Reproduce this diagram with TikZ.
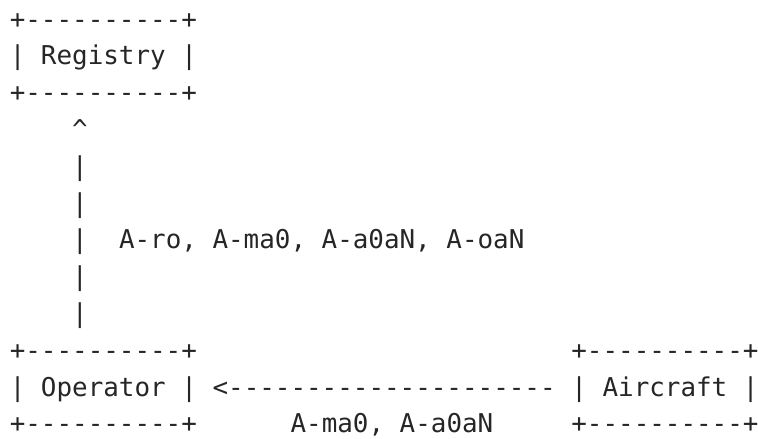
\documentclass[tikz,border=0pt]{standalone}
\usepackage{fontspec}
\setmonofont{DejaVu Sans Mono}
\begin{document}
\begin{tikzpicture}[x=1pt,y=1pt,
  asc/.style={anchor=base west, inner sep=0pt, outer sep=0pt,
    font=\ttfamily\fontsize{25.9}{36.8}\selectfont, text=black!85}]
\useasboundingbox (0,0) rectangle (758,439);
% Registry box
\node[asc] (regtop) at (9.8,410.8) {+----------+};
\node[asc] (reg)    at (9.8,374.0) {| Registry |};
\node[asc] (regbot) at (9.8,337.2) {+----------+};
% vertical arrow
\node[asc] (up)  at (72.2,300.4) {\textasciicircum};
\node[asc] (v1)  at (72.2,263.6) {|};
\node[asc] (v2)  at (72.2,226.8) {|};
\node[asc] (v3)  at (72.2,190.0) {|};
\node[asc] (lab1) at (119.0,190.0) {A-ro, A-ma0, A-a0aN, A-oaN};
\node[asc] (v4)  at (72.2,153.2) {|};
\node[asc] (v5)  at (72.2,116.4) {|};
% Operator box
\node[asc] (optop) at (9.8,79.6) {+----------+};
\node[asc] (op)    at (9.8,42.8) {| Operator |};
\node[asc] (opbot) at (9.8,6.0)  {+----------+};
% horizontal arrow
\node[asc] (harrow) at (212.6,42.8) {<---------------------};
\node[asc] (lab2)   at (290.6,6.0)  {A-ma0, A-a0aN};
% Aircraft box
\node[asc] (actop) at (571.4,79.6) {+----------+};
\node[asc] (ac)    at (571.4,42.8) {| Aircraft |};
\node[asc] (acbot) at (571.4,6.0)  {+----------+};
\end{tikzpicture}
\end{document}
